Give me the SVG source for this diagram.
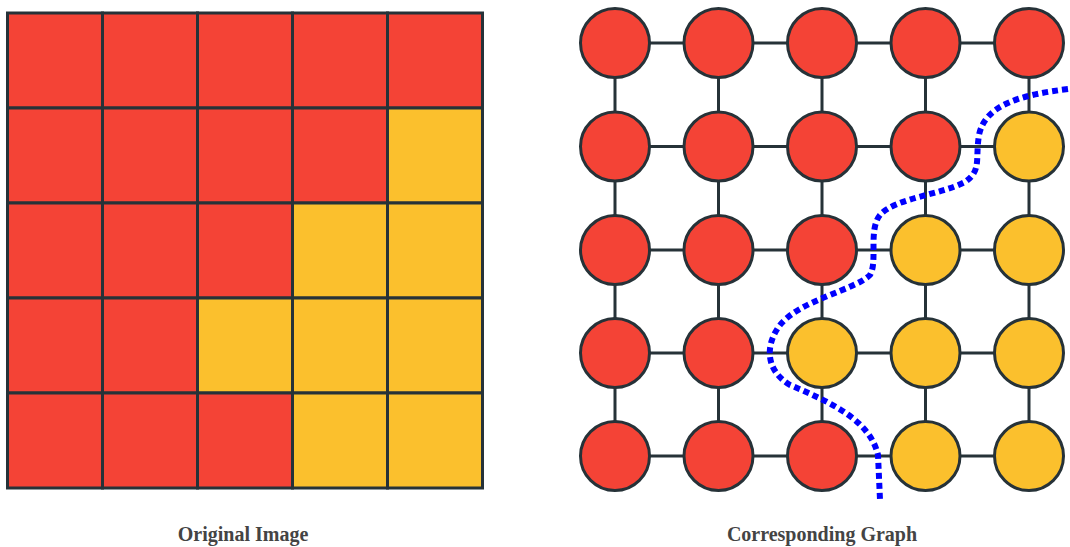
<svg xmlns="http://www.w3.org/2000/svg" width="1070" height="547" viewBox="0 0 1070 547">
<style>
.r{fill:#F44336}
.y{fill:#FBC02D}
.cell{stroke:#263238;stroke-width:3}
.node{stroke:#263238;stroke-width:3}
.edge{stroke:#263238;stroke-width:3;fill:none}
.cut{stroke:#0000ff;stroke-width:6;fill:none;stroke-dasharray:6 4}
.lbl{font-family:"Liberation Serif",serif;font-weight:bold;font-size:20px;fill:#444;text-anchor:middle}
</style>
<rect width="1070" height="547" fill="#fff"/>
<g id="image">
<rect class="cell r" x="7.5" y="13" width="95" height="95"/>
<rect class="cell r" x="102.5" y="13" width="95" height="95"/>
<rect class="cell r" x="197.5" y="13" width="95" height="95"/>
<rect class="cell r" x="292.5" y="13" width="95" height="95"/>
<rect class="cell r" x="387.5" y="13" width="95" height="95"/>
<rect class="cell r" x="7.5" y="108" width="95" height="95"/>
<rect class="cell r" x="102.5" y="108" width="95" height="95"/>
<rect class="cell r" x="197.5" y="108" width="95" height="95"/>
<rect class="cell r" x="292.5" y="108" width="95" height="95"/>
<rect class="cell y" x="387.5" y="108" width="95" height="95"/>
<rect class="cell r" x="7.5" y="203" width="95" height="95"/>
<rect class="cell r" x="102.5" y="203" width="95" height="95"/>
<rect class="cell r" x="197.5" y="203" width="95" height="95"/>
<rect class="cell y" x="292.5" y="203" width="95" height="95"/>
<rect class="cell y" x="387.5" y="203" width="95" height="95"/>
<rect class="cell r" x="7.5" y="298" width="95" height="95"/>
<rect class="cell r" x="102.5" y="298" width="95" height="95"/>
<rect class="cell y" x="197.5" y="298" width="95" height="95"/>
<rect class="cell y" x="292.5" y="298" width="95" height="95"/>
<rect class="cell y" x="387.5" y="298" width="95" height="95"/>
<rect class="cell r" x="7.5" y="393" width="95" height="95"/>
<rect class="cell r" x="102.5" y="393" width="95" height="95"/>
<rect class="cell r" x="197.5" y="393" width="95" height="95"/>
<rect class="cell y" x="292.5" y="393" width="95" height="95"/>
<rect class="cell y" x="387.5" y="393" width="95" height="95"/>
</g>
<g id="connectors">
<line class="edge" x1="615" y1="43" x2="1029" y2="43"/>
<line class="edge" x1="615" y1="146.5" x2="1029" y2="146.5"/>
<line class="edge" x1="615" y1="250" x2="1029" y2="250"/>
<line class="edge" x1="615" y1="353" x2="1029" y2="353"/>
<line class="edge" x1="615" y1="456" x2="1029" y2="456"/>
<line class="edge" x1="615" y1="43" x2="615" y2="456"/>
<line class="edge" x1="718.5" y1="43" x2="718.5" y2="456"/>
<line class="edge" x1="822" y1="43" x2="822" y2="456"/>
<line class="edge" x1="925.5" y1="43" x2="925.5" y2="456"/>
<line class="edge" x1="1029" y1="43" x2="1029" y2="456"/>
</g>
<g id="n11"><circle class="node r" cx="615" cy="43" r="34.5"/></g>
<g id="n12"><circle class="node r" cx="718.5" cy="43" r="34.5"/></g>
<g id="n13"><circle class="node r" cx="822" cy="43" r="34.5"/></g>
<g id="n14"><circle class="node r" cx="925.5" cy="43" r="34.5"/></g>
<g id="n15"><circle class="node r" cx="1029" cy="43" r="34.5"/></g>
<g id="n21"><circle class="node r" cx="615" cy="146.5" r="34.5"/></g>
<g id="n22"><circle class="node r" cx="718.5" cy="146.5" r="34.5"/></g>
<g id="n23"><circle class="node r" cx="822" cy="146.5" r="34.5"/></g>
<g id="n24"><circle class="node r" cx="925.5" cy="146.5" r="34.5"/></g>
<g id="n25"><circle class="node y" cx="1029" cy="146.5" r="34.5"/></g>
<g id="n31"><circle class="node r" cx="615" cy="250" r="34.5"/></g>
<g id="n32"><circle class="node r" cx="718.5" cy="250" r="34.5"/></g>
<g id="n33"><circle class="node r" cx="822" cy="250" r="34.5"/></g>
<g id="n34"><circle class="node y" cx="925.5" cy="250" r="34.5"/></g>
<g id="n35"><circle class="node y" cx="1029" cy="250" r="34.5"/></g>
<g id="n41"><circle class="node r" cx="615" cy="353" r="34.5"/></g>
<g id="n42"><circle class="node r" cx="718.5" cy="353" r="34.5"/></g>
<g id="n43"><circle class="node y" cx="822" cy="353" r="34.5"/></g>
<g id="n44"><circle class="node y" cx="925.5" cy="353" r="34.5"/></g>
<g id="n45"><circle class="node y" cx="1029" cy="353" r="34.5"/></g>
<g id="n51"><circle class="node r" cx="615" cy="456" r="34.5"/></g>
<g id="n52"><circle class="node r" cx="718.5" cy="456" r="34.5"/></g>
<g id="n53"><circle class="node r" cx="822" cy="456" r="34.5"/></g>
<g id="n54"><circle class="node y" cx="925.5" cy="456" r="34.5"/></g>
<g id="n55"><circle class="node y" cx="1029" cy="456" r="34.5"/></g>
<g id="cut">
<path class="cut" d="M1068,89 C1020,95 985,105 979,135 C975,160 982,170 965,182 C940,195 895,198 880,215 C868,230 878,262 870,275 C855,290 800,300 780,325 C765,345 765,370 790,385 C830,402 870,420 878,455 L880,500"/>
</g>
<g id="labels">
<text class="lbl" x="243" y="541">Original Image</text>
<text class="lbl" x="822" y="541">Corresponding Graph</text>
</g>
</svg>
